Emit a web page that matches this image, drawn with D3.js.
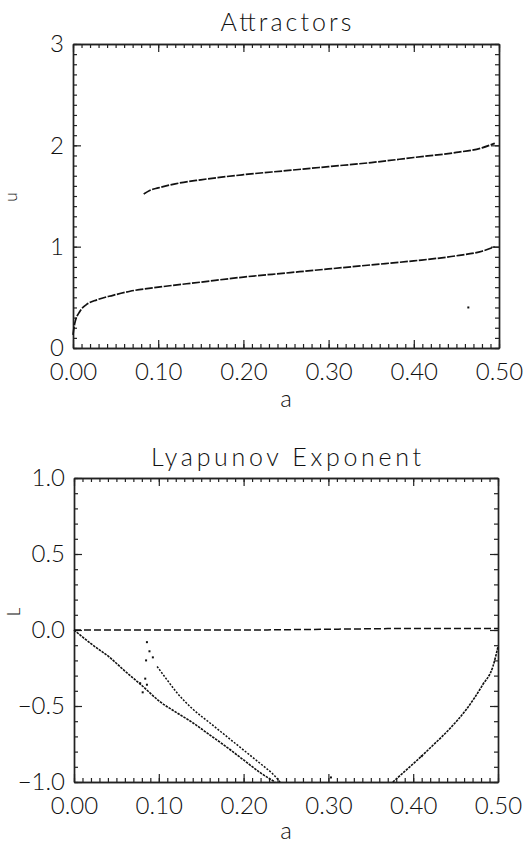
<!DOCTYPE html>
<html>
<head>
<meta charset="utf-8">
<script src="https://d3js.org/d3.v7.min.js"></script>
<style>
  body { margin: 0; background: #fff; }
  svg text { font-family: Lato, "Open Sans", "DejaVu Sans", sans-serif; font-weight: 300; fill: #111; }
</style>
</head>
<body>
<svg id="chart" width="528" height="845"></svg>
<script>
// attractor branches, u vs a
const lowerA = [0, 0.002, 0.008, 0.016, 0.028, 0.047, 0.067, 0.1, 0.15, 0.2, 0.25, 0.3, 0.35, 0.4, 0.45, 0.48, 0.495];
const lowerU = [0.13, 0.24, 0.36, 0.43, 0.475, 0.52, 0.56, 0.60, 0.65, 0.70, 0.74, 0.78, 0.82, 0.86, 0.91, 0.955, 1.0];
const upperA = [0.083, 0.09, 0.1, 0.12, 0.15, 0.2, 0.25, 0.3, 0.35, 0.4, 0.45, 0.48, 0.495];
const upperU = [1.52, 1.555, 1.58, 1.62, 1.66, 1.71, 1.75, 1.79, 1.83, 1.88, 1.93, 1.975, 2.02];
const strayU = [[0.464, 0.40]];

// lyapunov exponent branches, L vs a
const zeroA = [0, 0.1, 0.2, 0.3, 0.4, 0.5];
const zeroL = [0, 0, 0, 0.005, 0.01, 0.01];
const leftA = [0, 0.02, 0.042, 0.06, 0.081, 0.101, 0.12, 0.14, 0.16, 0.18, 0.2, 0.22, 0.237];
const leftL = [0, -0.09, -0.18, -0.27, -0.37, -0.47, -0.54, -0.61, -0.69, -0.77, -0.855, -0.94, -1.0];
const midA = [0.098, 0.11, 0.121, 0.14, 0.16, 0.18, 0.2, 0.22, 0.235, 0.243];
const midL = [-0.24, -0.33, -0.41, -0.52, -0.61, -0.70, -0.79, -0.88, -0.95, -1.0];
const rightA = [0.376, 0.39, 0.404, 0.423, 0.443, 0.463, 0.482, 0.494, 0.5];
const rightL = [-1.0, -0.93, -0.86, -0.76, -0.65, -0.52, -0.36, -0.24, -0.11];
const strayL = [[0.086, -0.08], [0.089, -0.14], [0.085, -0.2], [0.093, -0.18], [0.084, -0.32],
                [0.078, -0.35], [0.086, -0.36], [0.081, -0.41], [0.303, -0.97], [0.41, -0.83]];

// ticks
const aTicks = [0, 0.1, 0.2, 0.3, 0.4, 0.5];
const uTicks = [0, 1, 2, 3];
const lTicks = [-1, -0.5, 0, 0.5, 1];

const svg = d3.select("#chart");

function zip(xs, ys) { return xs.map((v, i) => [v, ys[i]]); }

// draws an IDL-ish box frame with inward ticks on all four sides
function frame(x, y, yTicks, yMinorStep, yFmt) {
  const g = svg.append("g");
  const [x0, x1] = x.range();
  const [y0, y1] = y.range();
  const xMinor = d3.range(0, 0.5001, 0.01);
  const yd = y.domain();
  const yMinor = d3.range(yd[0], yd[1] + 1e-6, yMinorStep);

  g.append("g").attr("transform", `translate(0,${y0})`)
    .call(d3.axisBottom(x).tickValues(aTicks).tickFormat(d3.format(".2f")).tickSizeInner(-8).tickSizeOuter(0).tickPadding(15));
  g.append("g").attr("transform", `translate(0,${y0})`)
    .call(d3.axisBottom(x).tickValues(xMinor).tickFormat("").tickSizeInner(-4).tickSizeOuter(0));
  g.append("g").attr("transform", `translate(0,${y1})`)
    .call(d3.axisTop(x).tickValues(aTicks).tickFormat("").tickSizeInner(-8).tickSizeOuter(0));
  g.append("g").attr("transform", `translate(0,${y1})`)
    .call(d3.axisTop(x).tickValues(xMinor).tickFormat("").tickSizeInner(-4).tickSizeOuter(0));
  g.append("g").attr("transform", `translate(${x0},0)`)
    .call(d3.axisLeft(y).tickValues(yTicks).tickFormat(yFmt).tickSizeInner(-8).tickSizeOuter(0).tickPadding(9));
  g.append("g").attr("transform", `translate(${x0},0)`)
    .call(d3.axisLeft(y).tickValues(yMinor).tickFormat("").tickSizeInner(-4).tickSizeOuter(0));
  g.append("g").attr("transform", `translate(${x1},0)`)
    .call(d3.axisRight(y).tickValues(yTicks).tickFormat("").tickSizeInner(-8).tickSizeOuter(0));
  g.append("g").attr("transform", `translate(${x1},0)`)
    .call(d3.axisRight(y).tickValues(yMinor).tickFormat("").tickSizeInner(-4).tickSizeOuter(0));

  g.selectAll("path.domain").attr("stroke", "#222").attr("stroke-width", 1.4);
  g.selectAll("line").attr("stroke", "#222").attr("stroke-width", 1.2);
  g.selectAll("text").attr("font-size", 24).attr("font-family", null).attr("fill", "#111");
  return g;
}

function curve(x, y, pts, dash, w) {
  svg.append("path")
    .datum(pts)
    .attr("fill", "none")
    .attr("stroke", "#111")
    .attr("stroke-width", w)
    .attr("stroke-dasharray", dash)
    .attr("d", d3.line().x(d => x(d[0])).y(d => y(d[1])).curve(d3.curveMonotoneX));
}

function dots(x, y, pts) {
  svg.append("g").selectAll("rect").data(pts).join("rect")
    .attr("x", d => x(d[0]) - 1).attr("y", d => y(d[1]) - 1)
    .attr("width", 2).attr("height", 2).attr("fill", "#111");
}

function title(txt, cx, cy, len) {
  svg.append("text").attr("x", cx).attr("y", cy)
    .attr("text-anchor", "middle").attr("font-size", 25)
    .attr("textLength", len).attr("lengthAdjust", "spacing")
    .text(txt);
}

// ---- top panel: Attractors
const xTop = d3.scaleLinear().domain([0, 0.5]).range([73, 499]);
const yTop = d3.scaleLinear().domain([0, 3]).range([348, 44]);
frame(xTop, yTop, uTicks, 0.1, d3.format("d"));

curve(xTop, yTop, zip(lowerA, lowerU), "8,1.5", 1.7);
curve(xTop, yTop, zip(upperA, upperU), "8,1.5", 1.7);
dots(xTop, yTop, strayU);

title("Attractors", 286, 31, 131);
svg.append("text").attr("x", 286).attr("y", 407).attr("text-anchor", "middle").attr("font-size", 24).text("a");
svg.append("text").attr("transform", "translate(17,197) rotate(-90)").attr("text-anchor", "middle").attr("font-size", 17).text("u");

// ---- bottom panel: Lyapunov exponent
const xBot = d3.scaleLinear().domain([0, 0.5]).range([74, 498]);
const yBot = d3.scaleLinear().domain([-1, 1]).range([782, 478]);
frame(xBot, yBot, lTicks, 0.1, d3.format(".1f"));

curve(xBot, yBot, zip(zeroA, zeroL), "7,3", 1.5);
curve(xBot, yBot, zip(leftA, leftL), "2.5,1", 1.6);
curve(xBot, yBot, zip(midA, midL), "2,1.5", 1.5);
curve(xBot, yBot, zip(rightA, rightL), "2.5,1", 1.6);
dots(xBot, yBot, strayL);

title("Lyapunov  Exponent", 286, 466, 270);
svg.append("text").attr("x", 286).attr("y", 839).attr("text-anchor", "middle").attr("font-size", 24).text("a");
svg.append("text").attr("transform", "translate(20,612) rotate(-90)").attr("text-anchor", "middle").attr("font-size", 17).text("L");
</script>
</body>
</html>
